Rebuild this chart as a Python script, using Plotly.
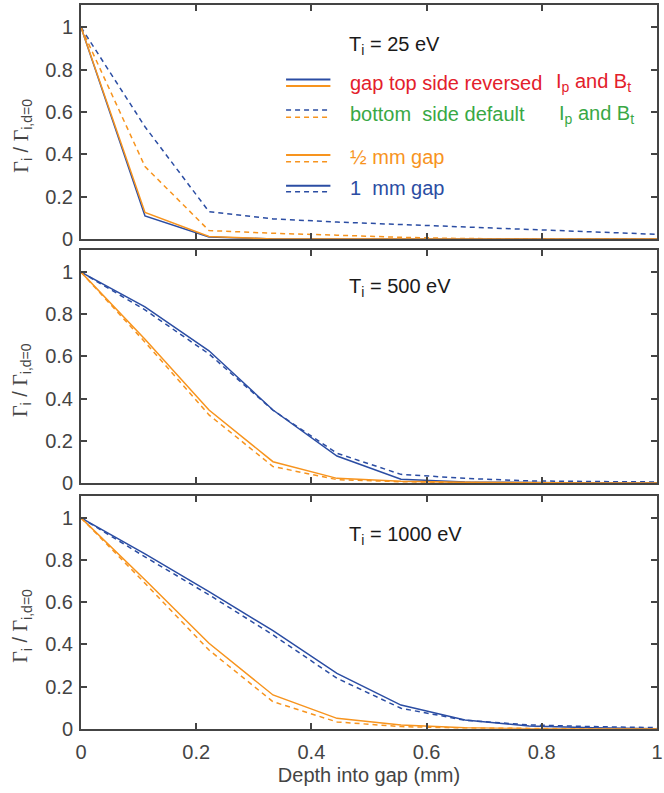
import plotly.graph_objects as go

# ---------------- data ----------------
depth = [0, 1/9, 2/9, 3/9, 4/9, 5/9, 6/9, 7/9, 8/9, 1.0]

# Ti = 25 eV
t25_1mm_top = [1, 0.109, 0.010, 0, 0, 0, 0, 0, 0, 0]
t25_1mm_bot = [1, 0.530, 0.129, 0.095, 0.080, 0.068, 0.056, 0.045, 0.034, 0.022]
t25_half_top = [1, 0.125, 0.012, 0, 0, 0, 0, 0, 0, 0]
t25_half_bot = [1, 0.342, 0.040, 0.027, 0.018, 0.008, 0.002, 0, 0, 0]

# Ti = 500 eV
t500_1mm_top = [1, 0.835, 0.627, 0.346, 0.128, 0.018, 0.005, 0.002, 0, 0]
t500_1mm_bot = [1, 0.821, 0.612, 0.345, 0.141, 0.041, 0.022, 0.010, 0.007, 0.005]
t500_half_top = [1, 0.682, 0.346, 0.101, 0.022, 0.008, 0.003, 0, 0, 0]
t500_half_bot = [1, 0.668, 0.323, 0.078, 0.016, 0.006, 0.002, 0, 0, 0]

# Ti = 1000 eV
t1000_1mm_top = [1, 0.829, 0.650, 0.465, 0.262, 0.112, 0.041, 0.013, 0.004, 0]
t1000_1mm_bot = [1, 0.815, 0.635, 0.445, 0.239, 0.097, 0.040, 0.018, 0.010, 0.005]
t1000_half_top = [1, 0.706, 0.405, 0.160, 0.049, 0.017, 0.005, 0, 0, 0]
t1000_half_bot = [1, 0.690, 0.373, 0.128, 0.032, 0.010, 0.003, 0, 0, 0]

panel_titles = ["T<sub>i</sub> = 25 eV", "T<sub>i</sub> = 500 eV", "T<sub>i</sub> = 1000 eV"]
x_ticks = [0, 0.2, 0.4, 0.6, 0.8, 1]
x_labels = ["0", "0.2", "0.4", "0.6", "0.8", "1"]
y_ticks = [0, 0.2, 0.4, 0.6, 0.8, 1]
y_labels = ["0", "0.2", "0.4", "0.6", "0.8", "1"]

BLUE = "#2B4DA3"
ORANGE = "#F7941E"
RED = "#E3202B"
GREEN = "#39A845"
AX = "#444444"
FONT = "Liberation Sans"
FS = 20

panels = [
    (t25_1mm_top, t25_1mm_bot, t25_half_top, t25_half_bot),
    (t500_1mm_top, t500_1mm_bot, t500_half_top, t500_half_bot),
    (t1000_1mm_top, t1000_1mm_bot, t1000_half_top, t1000_half_bot),
]

W, H = 664, 793
ML, MR, MT, MB = 81, 1, 5, 64
PH = H - MT - MB  # paper height in px


def ydom(top_px, bot_px):
    return [(H - MB - bot_px) / PH, (H - MB - top_px) / PH]


domains = [ydom(5, 239), ydom(250, 483), ydom(495.7, 728.7)]
title_y = [0.829, 0.837, 0.831]

fig = go.Figure()
DASH = "5px,4px"
for i, (b_top, b_bot, o_top, o_bot) in enumerate(panels):
    xa = "x" if i == 0 else f"x{i+1}"
    ya = "y" if i == 0 else f"y{i+1}"
    for vals, col, dash in [(b_bot, BLUE, DASH), (o_bot, ORANGE, DASH),
                            (b_top, BLUE, "solid"), (o_top, ORANGE, "solid")]:
        fig.add_trace(go.Scatter(x=depth, y=vals, mode="lines", xaxis=xa, yaxis=ya,
                                 line=dict(color=col, width=1.5, dash=dash),
                                 showlegend=False, hoverinfo="skip"))

axis_common = dict(showline=True, linecolor=AX, linewidth=2, mirror="ticks",
                   ticks="inside", ticklen=6, tickwidth=2, tickcolor=AX,
                   showgrid=False, zeroline=False, ticklabeloverflow="allow",
                   tickfont=dict(family=FONT, size=FS, color=AX))

layout = dict(width=W, height=H, margin=dict(l=ML, r=MR, t=MT, b=MB),
              plot_bgcolor="white", paper_bgcolor="white",
              font=dict(family=FONT, size=FS, color=AX), showlegend=False)

for i in range(3):
    xk = "xaxis" if i == 0 else f"xaxis{i+1}"
    yk = "yaxis" if i == 0 else f"yaxis{i+1}"
    ya = "y" if i == 0 else f"y{i+1}"
    xa = "x" if i == 0 else f"x{i+1}"
    xd = dict(axis_common, range=[0, 1.0001], tickvals=x_ticks, ticktext=x_labels,
              anchor=ya, domain=[0, 1], showticklabels=(i == 2))
    if i == 2:
        xd["title"] = dict(text="Depth into gap (mm)", font=dict(family=FONT, size=FS, color=AX), standoff=6)
        xd["ticklabelstandoff"] = 4
    if i > 0:
        xd["matches"] = "x"
    layout[xk] = xd
    layout[yk] = dict(axis_common, range=[0, 1.105], tickvals=y_ticks, ticktext=y_labels,
                      anchor=xa, domain=domains[i], ticklabelstandoff=2)

fig.update_layout(**layout)

annotations = []
shapes = []
GAM = "<span style=\"font-family:'Liberation Serif'\">Γ</span>"
for i in range(3):
    xa = "x" if i == 0 else f"x{i+1}"
    ya = "y" if i == 0 else f"y{i+1}"
    annotations.append(dict(text=panel_titles[i], xref=f"{xa} domain", yref=f"{ya} domain",
                            x=0.462, y=title_y[i], xanchor="left", yanchor="middle",
                            showarrow=False, font=dict(family=FONT, size=FS, color="#1a1a1a")))
    annotations.append(dict(text=GAM + "<sub>i</sub> / " + GAM + "<sub>i,d=0</sub>",
                            xref="paper", yref=f"{ya} domain", x=-60 / 582, y=0.44,
                            xanchor="center", yanchor="middle", textangle=-90, showarrow=False,
                            font=dict(family=FONT, size=FS, color=AX)))

# legend inside top panel
leg_x0, leg_x1 = 0.356, 0.433
for yv, col, dash in [(0.682, BLUE, "solid"), (0.654, ORANGE, "solid"),
                      (0.551, BLUE, "dash"), (0.520, ORANGE, "dash"),
                      (0.359, ORANGE, "solid"), (0.330, ORANGE, "dash"),
                      (0.228, BLUE, "solid"), (0.202, BLUE, "dash")]:
    shapes.append(dict(type="line", xref="x domain", yref="y domain",
                       x0=leg_x0, x1=leg_x1, y0=yv, y1=yv,
                       line=dict(color=col, width=2 if dash == "solid" else 1.5,
                                 dash="solid" if dash == "solid" else "5px,4px")))

leg_texts = [
    ("gap top side reversed", 0.464, 0.668, RED),
    ("I<sub>p</sub> and B<sub>t</sub>", 0.822, 0.668, RED),
    ("bottom  side default", 0.464, 0.534, GREEN),
    ("I<sub>p</sub> and B<sub>t</sub>", 0.826, 0.534, GREEN),
    ("½ mm gap", 0.464, 0.350, ORANGE),
    ("1  mm gap", 0.464, 0.218, BLUE),
]
for txt, xv, yv, col in leg_texts:
    annotations.append(dict(text=txt, xref="x domain", yref="y domain", x=xv, y=yv,
                            xanchor="left", yanchor="middle", showarrow=False,
                            font=dict(family=FONT, size=FS, color=col)))

fig.update_layout(annotations=annotations, shapes=shapes)
fig.write_html("out.html")
